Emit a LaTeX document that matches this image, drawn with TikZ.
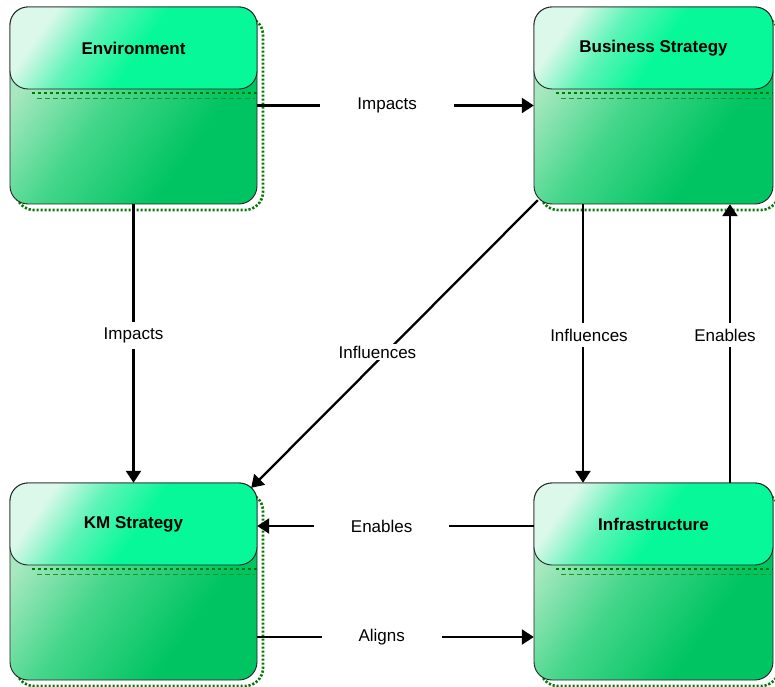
\documentclass[tikz,border=0pt]{standalone}
\usepackage{fontspec}
\setmainfont{Liberation Sans}
\usetikzlibrary{arrows.meta}

\definecolor{hdrA}{HTML}{DCF8EA}
\definecolor{hdrM}{HTML}{60F4B8}
\definecolor{hdrB}{HTML}{06F898}
\definecolor{bodyA}{HTML}{A8E8C0}
\definecolor{bodyM}{HTML}{44D68A}
\definecolor{bodyB}{HTML}{00C462}
\definecolor{shadowgreen}{HTML}{007A00}
\definecolor{edgegray}{HTML}{222222}

\pgfdeclarehorizontalshading{hdrshade}{100bp}{color(0bp)=(hdrA); color(26bp)=(hdrA); color(38bp)=(hdrM); color(52bp)=(hdrB); color(100bp)=(hdrB)}
\pgfdeclarehorizontalshading{bodyshade}{100bp}{color(0bp)=(bodyA); color(27bp)=(bodyA); color(45bp)=(bodyM); color(66bp)=(bodyB); color(100bp)=(bodyB)}

\tikzset{
  boxshadow/.style={draw=shadowgreen, line width=2.6pt, dash pattern=on 2.2pt off 1.8pt, rounded corners=18pt},
  bodypart/.style={draw=edgegray, line width=0.9pt, rounded corners=18pt, shade, shading=bodyshade, shading angle=-35},
  hdrpart/.style={draw=edgegray, line width=0.9pt, rounded corners=18pt, shade, shading=hdrshade, shading angle=-35},
  hdrshadow/.style={draw=shadowgreen, line width=2.6pt, dash pattern=on 3pt off 3pt},
  hdrshadowthin/.style={draw=shadowgreen!85, line width=0.9pt, dash pattern=on 5pt off 3pt},
  boxanchor/.style={rectangle, draw=none, inner sep=0pt},
  boxtitle/.style={font=\fontsize{17}{20}\selectfont\bfseries, inner sep=0pt},
  flow/.style={-{Triangle[length=12pt,width=15pt]}, line width=2.3pt},
  lbl/.style={fill=white, inner xsep=37pt, inner ysep=6pt, font=\fontsize{17}{20}\selectfont},
  lbltight/.style={fill=white, inner sep=2pt, font=\fontsize{17}{20}\selectfont},
}

% #1 node name, #2 left, #3 bottom, #4 right, #5 top, #6 title
\newcommand\kmframe[6]{%
  \draw[boxshadow] (#2+6,#3-6) rectangle (#4+6,#5-10);
  \path[bodypart] (#2,#3) rectangle (#4,#5);
  \draw[hdrshadow] (#2+22,#5-86) -- (#4,#5-86);
  \draw[hdrshadowthin] (#2+27,#5-91) -- (#4-2,#5-91);
  \path[hdrpart] (#2,#5-82) rectangle (#4,#5);
  \node[boxanchor, minimum width={(#4-#2)*1pt}, minimum height={(#5-#3)*1pt}]
    (#1) at ({(#2+#4)/2},{(#3+#5)/2}) {};
  \node[boxtitle] at ({(#2+#4)/2},#5-41) {#6};
}

\begin{document}
\begin{tikzpicture}[x=1pt,y=1pt]
\useasboundingbox (0,0) rectangle (775,686);

\kmframe{env}{10}{482}{257}{679}{Environment}
\kmframe{bus}{534}{482}{773}{679}{Business Strategy}
\kmframe{km}{10}{6}{257}{203}{KM Strategy}
\kmframe{infra}{534}{6}{773}{203}{Infrastructure}

% connectors
\draw[flow] (env.east) -- node[lbl, pos=0.47] {Impacts} (bus.west);
\draw[flow] (env.south) -- node[lbl, pos=0.47] {Impacts} (km.north);
\draw[flow] ([shift={(4,4)}]bus.south west) -- node[lbltight, pos=0.528, xshift=-9pt] {Influences} ([shift={(-6,-5)}]km.north east);
\draw[flow] ([xshift=-70.5pt]bus.south) -- node[lbl, pos=0.47, xshift=6pt] {Influences} ([xshift=-70.5pt]infra.north);
\draw[flow] ([xshift=76.5pt]infra.north) -- node[lbl, pos=0.53, xshift=-5pt] {Enables} ([xshift=76.5pt]bus.south);
\draw[flow] ([yshift=55.5pt]infra.west) -- node[lbl, pos=0.55] {Enables} ([yshift=55.5pt]km.east);
\draw[flow] ([yshift=-55.5pt]km.east) -- node[lbl, pos=0.45] {Aligns} ([yshift=-55.5pt]infra.west);
\end{tikzpicture}
\end{document}
